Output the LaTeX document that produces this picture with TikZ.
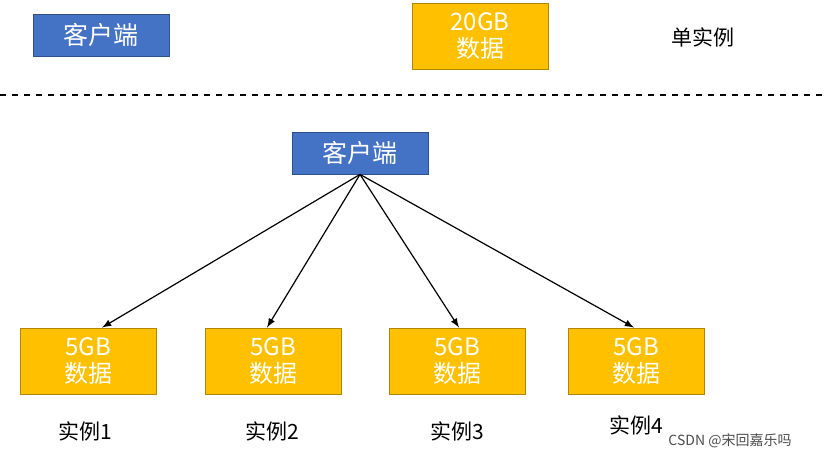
\documentclass[tikz,border=0pt]{standalone}
\usepackage{fontspec}
\setmainfont{Noto Sans CJK SC}
\usepackage{tikz}
\definecolor{boxblue}{HTML}{4472C4}
\definecolor{boxyellow}{HTML}{FFC000}

\begin{document}
\begin{tikzpicture}[x=0.5pt,y=-0.5pt]
    \tikzstyle{client}=[fill=boxblue,draw=boxblue!70!black,text=white,font=\fontsize{12.5}{13}\selectfont,minimum width=68pt,minimum height=21pt,inner sep=0pt]
    \tikzstyle{data}=[fill=boxyellow,draw=boxyellow!70!black,text=white,font=\fontsize{12}{13.5}\selectfont,align=center,minimum width=68pt,minimum height=33pt,inner sep=0pt]
    \tikzstyle{tag}=[font=\fontsize{10.5}{12}\selectfont,text=black]
    \tikzset{link/.style={->,>=latex,line width=0.6pt}}

    \useasboundingbox (0,0) rectangle (830,458);

    % single instance
    \node[client] (client1) at (101,35) {客户端};
    \node[data] (data20) at (480,36) {20GB\\数据};
    \node[tag] (single) at (703,37) {单实例};

    \draw[dashed,line width=0.6pt] (0,95) -- (822,95);

    % sharded
    \node[client] (client2) at (360,153) {客户端};
    \node[data] (data1) at (88,361) {5GB\\数据};
    \node[data] (data2) at (273,361) {5GB\\数据};
    \node[data] (data3) at (457,361) {5GB\\数据};
    \node[data] (data4) at (636,361) {5GB\\数据};

    \node[tag] (inst1) at (85,431) {实例1};
    \node[tag] (inst2) at (272,431) {实例2};
    \node[tag] (inst3) at (457,431) {实例3};
    \node[tag] (inst4) at (636,425) {实例4};

    \foreach \i/\dx in {1/7,2/-3,3/1,4/-1}
        \draw[link] (client2.south) -- ([xshift=\dx pt]data\i.north);

    \node[font=\fontsize{7}{8}\selectfont,text=black!70] (mark) at (730,441) {CSDN @宋回嘉乐吗};
\end{tikzpicture}
\end{document}
